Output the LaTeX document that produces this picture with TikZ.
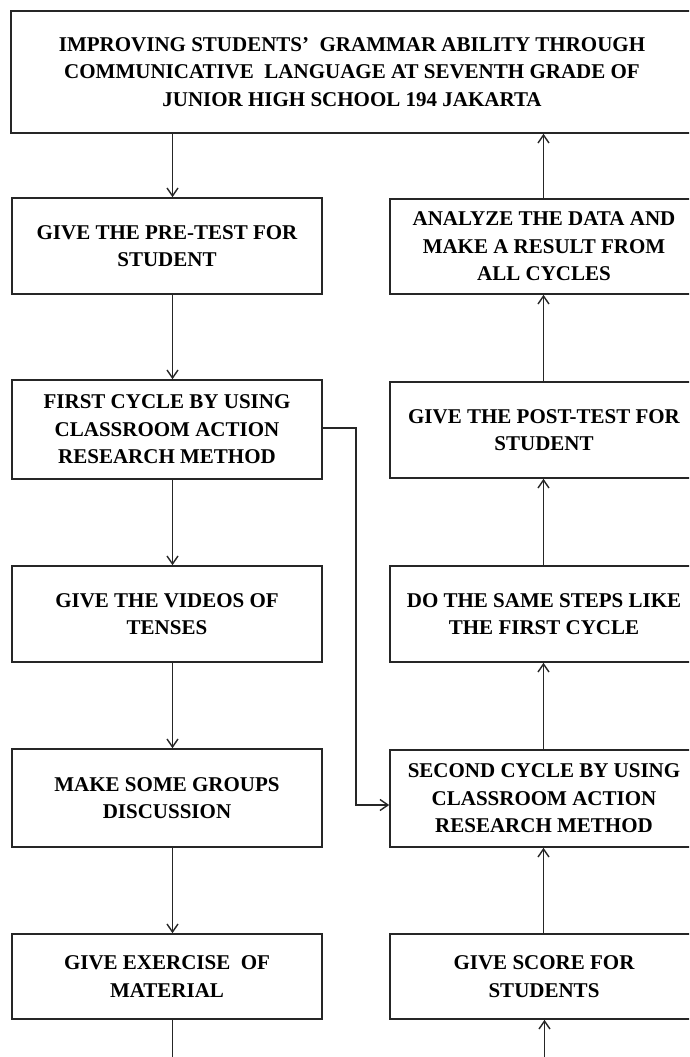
\documentclass[tikz,border=0pt]{standalone}
\usepackage{fontspec}
\setmainfont{Liberation Serif}
\usetikzlibrary{arrows.meta,calc}
\begin{document}
\begin{tikzpicture}[x=1pt,y=-1pt,
  box/.style={draw=black!85,line width=1.6pt,rectangle,inner sep=0pt,align=center,
    font=\fontsize{21}{27.5}\selectfont\bfseries},
  lbox/.style={box,minimum width=310pt},
  rbox/.style={box,minimum width=308pt},
  arr/.style={draw=black!85,line width=1.5pt,-{Straight Barb[length=8pt,width=11pt,line width=1.4pt]}},
  ln/.style={draw=black!85,line width=1.5pt}]
\useasboundingbox (0,0) rectangle (689,1057);
\clip (0,0) rectangle (689,1057);
\fill[white] (0,0) rectangle (689,1057);
% top
\node[box,minimum width=682pt,minimum height=122pt] (top) at (352,72)
  {IMPROVING STUDENTS'\ \ GRAMMAR ABILITY THROUGH\\COMMUNICATIVE\ \ LANGUAGE AT SEVENTH GRADE OF\\JUNIOR HIGH SCHOOL 194 JAKARTA};
% left column
\node[lbox,minimum height=96pt] (pre) at (167,246) {GIVE THE PRE-TEST FOR\\STUDENT};
\node[lbox,minimum height=99pt] (first) at (167,429.5) {FIRST CYCLE BY USING\\CLASSROOM ACTION\\RESEARCH METHOD};
\node[lbox,minimum height=96pt] (videos) at (167,614) {GIVE THE VIDEOS OF\\TENSES};
\node[lbox,minimum height=98pt] (groups) at (167,798) {MAKE\ SOME\ GROUPS\\DISCUSSION};
\node[lbox,minimum height=85pt] (exercise) at (167,976.5) {GIVE EXERCISE\ \ OF\\MATERIAL};
% right column
\node[rbox,minimum height=95pt] (analyze) at (544,246.5) {ANALYZE THE DATA AND\\MAKE A RESULT FROM\\ALL CYCLES};
\node[rbox,minimum height=96pt] (post) at (544,430) {GIVE THE POST-TEST FOR\\STUDENT};
\node[rbox,minimum height=96pt] (same) at (544,614) {DO THE SAME STEPS LIKE\\THE FIRST CYCLE};
\node[rbox,minimum height=97pt] (second) at (544,798.5) {SECOND CYCLE BY USING\\CLASSROOM ACTION\\RESEARCH METHOD};
\node[rbox,minimum height=85pt] (score) at (544,976.5) {GIVE SCORE FOR\\STUDENTS};
% column coordinates
\coordinate (lx) at (172.5,0);
\coordinate (rx) at (543.5,0);
\coordinate (lbot) at (172.5,1060);
\coordinate (rbot) at (544.5,1060);
\coordinate (bendA) at (356,428);
\coordinate (bendB) at (356,805);
% left arrows
\draw[arr] (top.south -| lx) -- (pre.north -| lx);
\draw[arr] (pre.south -| lx) -- (first.north -| lx);
\draw[arr] (first.south -| lx) -- (videos.north -| lx);
\draw[arr] (videos.south -| lx) -- (groups.north -| lx);
\draw[arr] (groups.south -| lx) -- (exercise.north -| lx);
\draw[ln] (exercise.south -| lx) -- (lbot);
% right arrows
\draw[arr] (rbot) -- (score.south -| rbot);
\draw[arr] (score.north -| rx) -- (second.south -| rx);
\draw[arr] (second.north -| rx) -- (same.south -| rx);
\draw[arr] (same.north -| rx) -- (post.south -| rx);
\draw[arr] (post.north -| rx) -- (analyze.south -| rx);
\draw[arr] (analyze.north -| rx) -- (top.south -| rx);
% cross connector
\draw[arr] (first.east |- bendA) -- (bendA) -- (bendB) -- (second.west |- bendB);
\end{tikzpicture}
\end{document}
